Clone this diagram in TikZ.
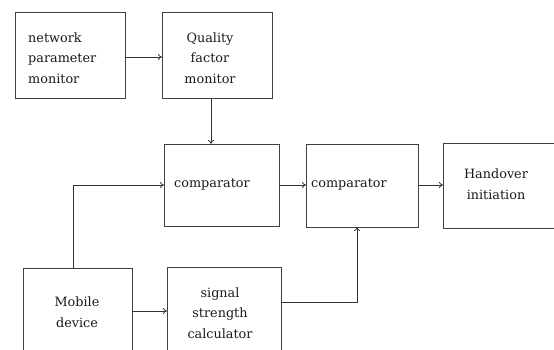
\documentclass[tikz,border=0pt]{standalone}
\usepackage{fontspec}
\setmainfont{DejaVu Serif}
\usetikzlibrary{arrows.meta}
\begin{document}
\begin{tikzpicture}[x=1pt,y=-1pt,
  box/.style={draw=black!75,line width=0.9pt,inner sep=0pt,outer sep=0pt},
  lbl/.style={inner sep=0pt,font=\fontsize{12.8}{20.5}\selectfont,text=black!90},
  conn/.style={draw=black!80,line width=0.8pt},
  arr/.style={conn,-{To[length=4pt,width=6pt]}}]
\useasboundingbox (0,0) rectangle (554,349);
\clip (0,0) rectangle (554,349);
% boxes
\node[box,minimum width=110pt,minimum height=86pt] (net) at (70,55) {};
\node[box,minimum width=110pt,minimum height=86pt] (qual) at (217,55) {};
\node[box,minimum width=115pt,minimum height=82pt] (cmp1) at (221.5,185) {};
\node[box,minimum width=112pt,minimum height=83pt] (cmp2) at (362,185.5) {};
\node[box,minimum width=130pt,minimum height=85pt] (hand) at (508,185.5) {};
\node[box,minimum width=109pt,minimum height=100pt] (mob) at (77.5,318) {};
\node[box,minimum width=114pt,minimum height=100pt] (sig) at (224,317) {};
% labels
\node[lbl,anchor=west,align=left] (tnet) at (28,58) {network\\parameter\\monitor};
\node[lbl,align=center] (tqual) at (210,58) {Quality\\factor\\monitor};
\node[lbl,anchor=west] (tcmp1) at (174,184) {comparator};
\node[lbl,anchor=west] (tcmp2) at (311,184) {comparator};
\node[lbl,align=center] (thand) at (496,184) {Handover\\initiation};
\node[lbl,align=center] (tmob) at (77,312) {Mobile\\device};
\node[lbl,align=center] (tsig) at (220,313) {signal\\strength\\calculator};
% coordinates
\coordinate (m1) at (73,185);
\coordinate (s1) at (357,302);
% connectors
\draw[arr] (net.east |- 0,57) -- (qual.west |- 0,57);
\draw[arr] (qual.south -| 211,0) -- (cmp1.north -| 211,0);
\draw[arr] (mob.north -| m1) -- (m1) -- (cmp1.west |- m1);
\draw[arr] (cmp1.east |- 0,185) -- (cmp2.west |- 0,185);
\draw[arr] (cmp2.east |- 0,185) -- (hand.west |- 0,185);
\draw[arr] (mob.east |- 0,311) -- (sig.west |- 0,311);
\draw[arr] (sig.east |- s1) -- (s1) -- (cmp2.south -| s1);
\end{tikzpicture}
\end{document}
